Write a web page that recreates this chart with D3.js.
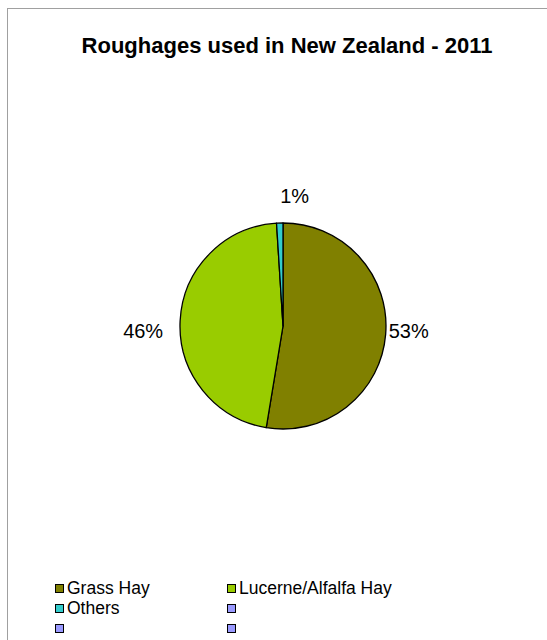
<!DOCTYPE html>
<html>
<head>
<meta charset="utf-8">
<script src="https://cdn.jsdelivr.net/npm/d3@7"></script>
<style>
  html, body { margin: 0; padding: 0; background: #fff; }
  svg { display: block; font-family: "Liberation Sans", Arial, sans-serif; }
</style>
</head>
<body>
<svg id="chart" width="547" height="640"></svg>
<script>
const title = "Roughages used in New Zealand - 2011";
const categories = ["Grass Hay", "Lucerne/Alfalfa Hay", "Others"];
const values = [52.6, 46.4, 1.0];
const colors = ["#808000", "#99CC00", "#33CCCC"];
const legendLabels = ["Grass Hay", "Lucerne/Alfalfa Hay", "Others", "", "", ""];
const legendColors = ["#808000", "#99CC00", "#33CCCC", "#9999FF", "#9999FF", "#9999FF"];

const svg = d3.select("#chart");

// frame
svg.append("rect")
  .attr("x", 7.5).attr("y", 8.5)
  .attr("width", 700).attr("height", 800)
  .attr("fill", "#fff").attr("stroke", "#a0a0a0").attr("stroke-width", 1);

// title
svg.append("text")
  .attr("x", 287).attr("y", 53)
  .attr("text-anchor", "middle")
  .attr("font-size", 22).attr("font-weight", "bold")
  .attr("fill", "#000")
  .text(title);

const cx = 283, cy = 326, r = 103;
const data = categories.map((c, i) => ({ name: c, value: values[i], color: colors[i] }));
const pie = d3.pie().value(d => d.value).sort(null);
const arcs = pie(data);
const arc = d3.arc().innerRadius(0).outerRadius(r);

const g = svg.append("g").attr("transform", `translate(${cx},${cy})`);
g.selectAll("path").data(arcs).join("path")
  .attr("d", arc)
  .attr("fill", d => d.data.color)
  .attr("stroke", "#000").attr("stroke-width", 1.3)
  .attr("stroke-linejoin", "round");

const total = d3.sum(values);
const fmt = v => Math.round(v / total * 100) + "%";

g.selectAll("text.lbl").data(arcs).join("text")
  .attr("class", "lbl")
  .attr("font-size", 20)
  .attr("fill", "#000")
  .each(function(d) {
    const a = (d.startAngle + d.endAngle) / 2;
    const s = Math.sin(a), c = Math.cos(a);
    const t = d3.select(this).text(fmt(d.value));
    if (s > 0.5) {
      t.attr("x", (r + 3) * s).attr("y", 12).attr("text-anchor", "start");
    } else if (s < -0.5) {
      t.attr("x", (r + 17) * s).attr("y", 12).attr("text-anchor", "end");
    } else {
      t.attr("x", (r + 3) * s + 15).attr("y", -(r + 20) * c).attr("text-anchor", "middle");
    }
  });

// legend
const legX = [55, 227], legY0 = 584, rowH = 20;
const leg = svg.append("g");
legendLabels.forEach((lab, i) => {
  const col = i % 2, row = Math.floor(i / 2);
  const x = legX[col], y = legY0 + row * rowH;
  leg.append("rect")
    .attr("x", x + 0.5).attr("y", y + 0.5)
    .attr("width", 8).attr("height", 8)
    .attr("fill", legendColors[i])
    .attr("stroke", "#000").attr("stroke-width", 1);
  leg.append("text")
    .attr("x", x + 12).attr("y", y + 10)
    .attr("font-size", 17.5)
    .attr("fill", "#000")
    .text(lab);
});
</script>
</body>
</html>
